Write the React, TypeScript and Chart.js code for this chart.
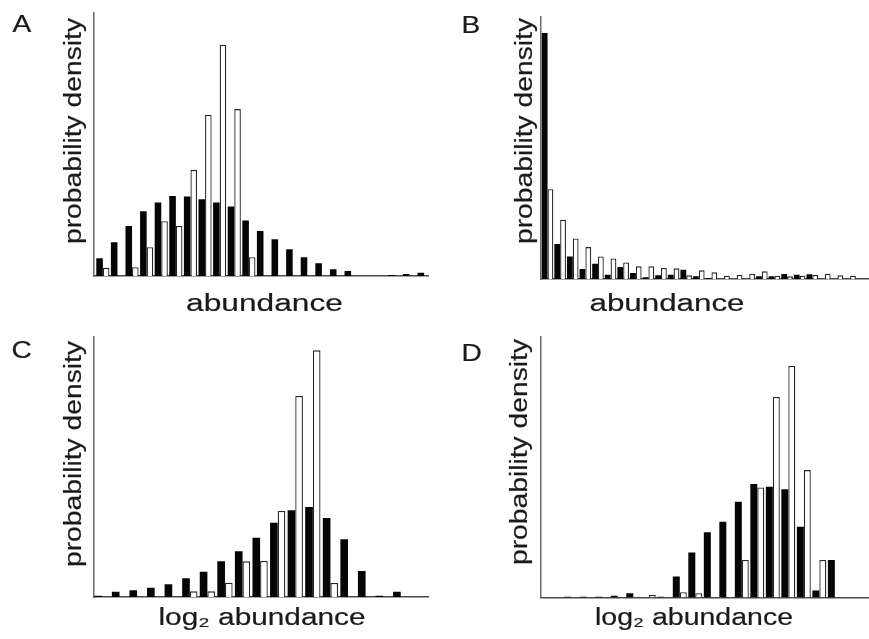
import React, { useEffect, useRef } from 'react';
import { Chart, registerables } from 'chart.js';

Chart.register(...registerables);

// ---------- DATA (probability density, arbitrary units) ----------
// Panel A: abundance
const aBlack = [5.3, 10.1, 15.0, 19.4, 22.0, 24.0, 23.8, 23.0, 22.0, 20.8, 16.6, 13.5, 11.0, 8.0, 5.6, 3.8, 2.0, 1.5, 0, 0, 0.3, 0.6, 1.0];
const aWhite = [2.5, 0, 2.6, 8.6, 16.4, 15.0, 31.8, 48.3, 69.3, 50.0, 5.6, 0, 0, 0, 0, 0, 0, 0, 0, 0, 0, 0, 0];

// Panel B: abundance
const bBlack = [74.0, 10.5, 6.8, 3.0, 4.6, 1.3, 3.6, 1.8, 0.5, 1.1, 1.3, 2.8, 0.8, 0.3, 0, 0, 0, 0.8, 0.8, 1.5, 1.3, 1.4, 0, 0, 0];
const bWhite = [27.0, 17.8, 12.2, 9.6, 6.8, 6.2, 5.0, 3.8, 3.8, 3.3, 3.2, 1.1, 2.6, 2.0, 1.0, 1.2, 1.6, 2.3, 1.0, 0.8, 1.0, 1.2, 1.6, 1.1, 1.0];

// Panel C: log2 abundance
const cBlack = [0.4, 1.6, 2.0, 2.8, 3.8, 5.6, 7.6, 10.7, 13.7, 17.8, 22.3, 26.0, 27.0, 23.7, 17.3, 7.8, 0.4, 1.6];
const cWhite = [0, 0, 0, 0, 0, 1.7, 1.7, 4.3, 10.7, 10.8, 25.8, 60.3, 74.0, 4.2, 0, 0, 0, 0];

// Panel D: log2 abundance
const dBlack = [0.2, 0.2, 0.2, 0.5, 1.3, 0, 0.2, 6.3, 13.5, 19.6, 22.8, 28.8, 34.1, 33.3, 32.5, 21.3, 2.1, 11.3];
const dWhite = [0, 0, 0, 0, 0.2, 0.8, 0, 1.6, 1.3, 0, 0, 11.3, 33.1, 60.3, 69.6, 38.3, 11.3, 0];

const Y_TITLE = 'probability density';
const X_TITLE_LIN = 'abundance';
const X_TITLE_LOG = 'log\u2082 abundance';

// ---------- LAYOUT ----------
type Panel = {
  letter: string;
  left: number; top: number; w: number; h: number;
  area: { l: number; r: number; t: number; b: number };
  xMin: number; xMax: number; yMax: number; cat: number;
  black: number[]; white: number[];
  xTitle: string; xTitleW: number; xTitleX: number; xTitleY: number;
  yTitleX: number; yTitleY: number;
  letterX: number; letterY: number;
};

const PANELS: Panel[] = [
  {
    letter: 'A', left: 0, top: 0, w: 434, h: 320,
    area: { l: 93.5, r: 428.5, t: 13, b: 276 },
    xMin: -0.64, xMax: 22.3, yMax: 78.8, cat: 0.9,
    black: aBlack, white: aWhite,
    xTitle: X_TITLE_LIN, xTitleW: 157, xTitleX: 264.5, xTitleY: 310.5,
    yTitleX: 80.5, yTitleY: 131, letterX: 12.5, letterY: 31.5,
  },
  {
    letter: 'B', left: 434, top: 0, w: 435, h: 320,
    area: { l: 541, r: 868.5, t: 17, b: 279 },
    xMin: -0.52, xMax: 25.46, yMax: 78.8, cat: 0.92,
    black: bBlack, white: bWhite,
    xTitle: X_TITLE_LIN, xTitleW: 155, xTitleX: 667, xTitleY: 310.5,
    yTitleX: 532, yTitleY: 131, letterX: 461.5, letterY: 33,
  },
  {
    letter: 'C', left: 0, top: 320, w: 434, h: 319,
    area: { l: 93.5, r: 428.5, t: 337, b: 597 },
    xMin: -0.48, xMax: 18.58, yMax: 78.0, cat: 0.87,
    black: cBlack, white: cWhite,
    xTitle: X_TITLE_LOG, xTitleW: 207, xTitleX: 262, xTitleY: 625,
    yTitleX: 80.5, yTitleY: 454, letterX: 11.5, letterY: 357.5,
  },
  {
    letter: 'D', left: 434, top: 320, w: 435, h: 319,
    area: { l: 541, r: 868.5, t: 337, b: 597.5 },
    xMin: -1.95, xMax: 19.17, yMax: 78.3, cat: 0.9,
    black: dBlack, white: dWhite,
    xTitle: X_TITLE_LOG, xTitleW: 198, xTitleX: 694, xTitleY: 625,
    yTitleX: 527, yTitleY: 452, letterX: 461.5, letterY: 361,
  },
];

type TextItem = {
  text: string; x: number; y: number; size: number;
  align: CanvasTextAlign; rotate?: boolean; width?: number; sx?: number;
};

function textPlugin(items: TextItem[]) {
  return {
    id: 'panelText',
    afterDraw(chart: any) {
      const ctx = chart.ctx as CanvasRenderingContext2D;
      items.forEach((t) => {
        ctx.save();
        ctx.font = `${t.size}px "Liberation Sans", Arial, sans-serif`;
        ctx.fillStyle = '#1a1a1a';
        ctx.strokeStyle = '#1a1a1a';
        ctx.lineWidth = 0.2;
        ctx.textAlign = t.align;
        ctx.textBaseline = 'alphabetic';
        const natural = ctx.measureText(t.text).width;
        const sx = t.width ? t.width / natural : t.sx ?? 1;
        ctx.translate(t.x, t.y);
        if (t.rotate) ctx.rotate(-Math.PI / 2);
        ctx.scale(sx, 1);
        ctx.fillText(t.text, 0, 0);
        ctx.strokeText(t.text, 0, 0);
        ctx.restore();
      });
    },
  };
}

function PanelChart({ cfg }: { cfg: Panel }) {
  const ref = useRef<HTMLCanvasElement>(null);
  useEffect(() => {
    if (!ref.current) return;
    const a = cfg.area;
    const labels = cfg.black.map((_, i) => i);
    const items: TextItem[] = [
      { text: cfg.letter, x: cfg.letterX - cfg.left, y: cfg.letterY - cfg.top, size: 24, align: 'left', sx: 1.17 },
      { text: Y_TITLE, x: cfg.yTitleX - cfg.left, y: cfg.yTitleY - cfg.top, size: 23, align: 'center', rotate: true, width: 226 },
      { text: cfg.xTitle, x: cfg.xTitleX - cfg.left, y: cfg.xTitleY - cfg.top, size: 23, align: 'center', width: cfg.xTitleW },
    ];
    const chart = new Chart(ref.current, {
      type: 'bar',
      data: {
        labels,
        datasets: [
          {
            data: cfg.black,
            backgroundColor: '#050505',
            borderWidth: 0,
            categoryPercentage: cfg.cat,
            barPercentage: 1,
          },
          {
            data: cfg.white,
            backgroundColor: '#ffffff',
            borderColor: '#262626',
            borderWidth: 1.3,
            categoryPercentage: cfg.cat,
            barPercentage: 1,
          },
        ],
      },
      options: {
        animation: false,
        responsive: false,
        events: [],
        layout: {
          padding: {
            left: a.l - cfg.left,
            right: cfg.left + cfg.w - a.r,
            top: a.t - cfg.top,
            bottom: cfg.top + cfg.h - a.b,
          },
        },
        plugins: { legend: { display: false }, tooltip: { enabled: false } },
        scales: {
          x: {
            type: 'linear',
            min: cfg.xMin,
            max: cfg.xMax,
            offset: false,
            ticks: { display: false, includeBounds: false, stepSize: 1 },
            grid: { display: false, drawTicks: false },
            border: { display: true, color: '#4a4a4a', width: 1.5 },
          },
          y: {
            min: 0,
            max: cfg.yMax,
            ticks: { display: false },
            grid: { display: false, drawTicks: false },
            border: { display: true, color: '#6a6a6a', width: 1.5 },
          },
        },
      } as any,
      plugins: [textPlugin(items)],
    });
    return () => chart.destroy();
  }, [cfg]);
  return (
    <canvas
      ref={ref}
      width={cfg.w}
      height={cfg.h}
      style={{ position: 'absolute', left: cfg.left, top: cfg.top, width: cfg.w, height: cfg.h, display: 'block' }}
    />
  );
}

export default function App() {
  return (
    <div style={{ position: 'absolute', left: 0, top: 0, width: 869, height: 639, background: '#ffffff', overflow: 'hidden' }}>
      {PANELS.map((p) => (
        <PanelChart key={p.letter} cfg={p} />
      ))}
    </div>
  );
}
